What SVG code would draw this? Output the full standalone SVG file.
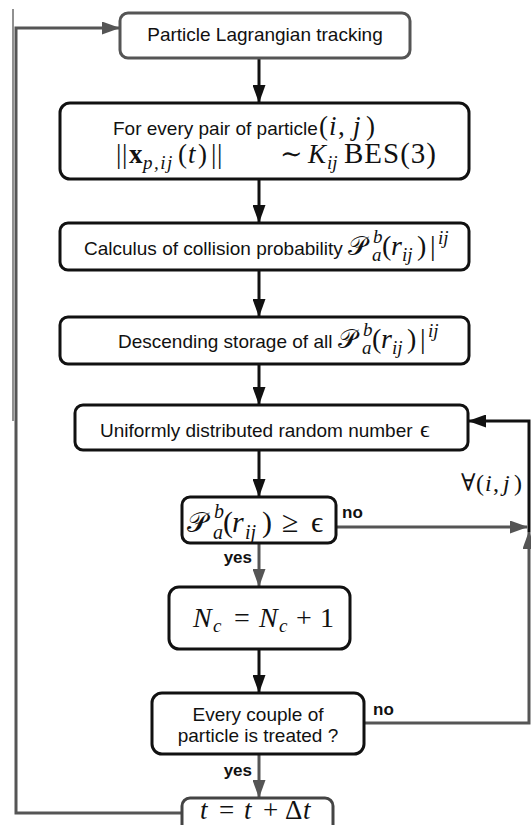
<svg xmlns="http://www.w3.org/2000/svg" width="531" height="825" viewBox="0 0 531 825">
<style>
.box{fill:#fff;stroke:#111;stroke-width:3}
.gbox{fill:#fff;stroke:#555;stroke-width:3}
.sans{font-family:"Liberation Sans",Arial,sans-serif;font-size:19px;fill:#111}
.lbl{font-family:"Liberation Sans",Arial,sans-serif;font-size:17px;font-weight:bold;fill:#111}
.m{font-family:"Liberation Serif","DejaVu Serif",serif;fill:#111}
.i{font-style:italic}
.s{font-size:19px;font-style:italic}
.cb{fill:none;stroke:#111;stroke-width:3}
.cg{fill:none;stroke:#555;stroke-width:3}
</style>
<defs>
<marker id="ab" markerUnits="userSpaceOnUse" markerWidth="18" markerHeight="13" refX="17" refY="6.5" orient="auto"><path d="M0,0 L18,6.5 L0,13 z" fill="#111"/></marker>
<marker id="ag" markerUnits="userSpaceOnUse" markerWidth="18" markerHeight="13" refX="17" refY="6.5" orient="auto"><path d="M0,0 L18,6.5 L0,13 z" fill="#555"/></marker>
</defs>
<line x1="13" y1="9" x2="13" y2="421" stroke="#222" stroke-width="1"/>
<g id="connectors">
<path class="cb" d="M259,58 V102" marker-end="url(#ab)"/>
<path class="cb" d="M259,179 V222" marker-end="url(#ab)"/>
<path class="cb" d="M259,270 V316" marker-end="url(#ab)"/>
<path class="cb" d="M259,364 V404" marker-end="url(#ab)"/>
<path class="cb" d="M259,450 V496" marker-end="url(#ab)"/>
<path class="cg" d="M259,543 V586" marker-end="url(#ag)"/>
<path class="cb" d="M259,649 V692" marker-end="url(#ab)"/>
<path class="cg" d="M259,754 V797" marker-end="url(#ag)"/>
<path class="cg" d="M182,813 H16 V28 H119" marker-end="url(#ag)"/>
<path class="cg" d="M336,527 H527" marker-end="url(#ag)"/>
<path class="cg" d="M364,723 H529 V532" marker-end="url(#ag)"/>
<path class="cb" d="M529,532 V421 H469" marker-end="url(#ab)"/>
</g>
<g id="n1"><rect class="gbox" x="120" y="13" width="290" height="45" rx="8"/>
<text class="sans" x="265" y="41" text-anchor="middle">Particle Lagrangian tracking</text></g>
<g id="n2"><rect class="box" x="60" y="103" width="409" height="76" rx="10"/>
<text class="sans" x="113" y="135">For every pair of particle</text>
<text class="m" font-size="27"><tspan x="319" y="135">(</tspan><tspan class="i" x="329" y="135">i</tspan><tspan x="338" y="135">,</tspan><tspan class="i" x="353" y="135">j</tspan><tspan x="366" y="135">)</tspan></text>
<text class="m" font-size="27"><tspan x="116" y="163">|</tspan><tspan x="122" y="163">|</tspan><tspan font-weight="bold" x="129" y="163">x</tspan><tspan class="s" x="143" y="169" letter-spacing="1.5">p,ij</tspan><tspan x="178" y="163">(</tspan><tspan class="i" x="188" y="163">t</tspan><tspan x="198" y="163">)</tspan><tspan x="211" y="163">|</tspan><tspan x="217" y="163">|</tspan><tspan x="280" y="163">∼</tspan><tspan class="i" x="308" y="163">K</tspan><tspan class="s" x="327" y="169">ij</tspan><tspan x="344" y="163" font-size="29" letter-spacing="1">BES(3)</tspan></text></g>
<g id="n3"><rect class="box" x="60" y="223" width="409" height="47" rx="8"/>
<text class="sans" x="84" y="255">Calculus of collision probability</text>
<text class="m" font-size="28"><tspan x="348" y="255" font-size="26">𝒫</tspan><tspan class="s" x="372" y="261">a</tspan><tspan class="s" x="373" y="243">b</tspan><tspan x="382" y="255">(</tspan><tspan class="i" x="391" y="255">r</tspan><tspan class="s" x="402" y="261">ij</tspan><tspan x="417" y="255">)</tspan><tspan x="430" y="255">|</tspan><tspan class="s" x="438" y="244">ij</tspan></text></g>
<g id="n4"><rect class="box" x="60" y="317" width="409" height="47" rx="8"/>
<text class="sans" x="118" y="348">Descending storage of all</text>
<text class="m" font-size="28"><tspan x="338" y="348" font-size="26">𝒫</tspan><tspan class="s" x="362" y="354">a</tspan><tspan class="s" x="363" y="336">b</tspan><tspan x="372" y="348">(</tspan><tspan class="i" x="381" y="348">r</tspan><tspan class="s" x="392" y="354">ij</tspan><tspan x="407" y="348">)</tspan><tspan x="420" y="348">|</tspan><tspan class="s" x="428" y="337">ij</tspan></text></g>
<g id="n5"><rect class="box" x="75" y="405" width="393" height="45" rx="8"/>
<text class="sans" x="100" y="437">Uniformly distributed random number</text>
<text class="m" x="420" y="437" font-size="24">ϵ</text></g>
<g id="n6"><rect class="box" x="182" y="497" width="154" height="46" rx="8"/>
<text class="m" font-size="30"><tspan x="187" y="532" font-size="28">𝒫</tspan><tspan class="i" font-size="20" x="213" y="539">a</tspan><tspan class="i" font-size="20" x="214" y="518">b</tspan><tspan x="223" y="532">(</tspan><tspan class="i" x="232" y="532">r</tspan><tspan class="i" font-size="20" x="245" y="539">ij</tspan><tspan x="262" y="532">)</tspan><tspan x="282" y="532">≥</tspan><tspan x="311" y="532">ϵ</tspan></text></g>
<g id="n7"><rect class="box" x="169" y="587" width="181" height="62" rx="10"/>
<text class="m" font-size="28"><tspan class="i" x="193" y="627">N</tspan><tspan class="s" x="213" y="632">c</tspan><tspan x="234" y="627">=</tspan><tspan class="i" x="259" y="627">N</tspan><tspan class="s" x="279" y="632">c</tspan><tspan x="296" y="627">+</tspan><tspan x="320" y="627">1</tspan></text></g>
<g id="n8"><rect class="box" x="152" y="693" width="212" height="61" rx="10"/>
<text class="sans" x="258" y="721" text-anchor="middle">Every couple of</text>
<text class="sans" x="258" y="742" text-anchor="middle">particle is treated ?</text></g>
<g id="n9"><rect x="182" y="798" width="151" height="50" rx="8" fill="#fff" stroke="#444" stroke-width="3"/>
<text class="m" font-size="27"><tspan class="i" x="200" y="819">t</tspan><tspan x="219" y="819">=</tspan><tspan class="i" x="244" y="819">t</tspan><tspan x="263" y="819">+</tspan><tspan x="285" y="819">Δ</tspan><tspan class="i" x="303" y="819">t</tspan></text></g>
<g id="labels">
<text class="lbl" x="252" y="563" text-anchor="end">yes</text>
<text class="lbl" x="252" y="776" text-anchor="end">yes</text>
<text class="lbl" x="342" y="518">no</text>
<text class="lbl" x="373" y="715">no</text>
<text class="m" font-size="24"><tspan x="461" y="491">∀</tspan><tspan x="476" y="491">(</tspan><tspan class="i" x="485" y="491">i</tspan><tspan x="493" y="491">,</tspan><tspan class="i" x="503" y="491">j</tspan><tspan x="514" y="491">)</tspan></text>
</g>
</svg>
